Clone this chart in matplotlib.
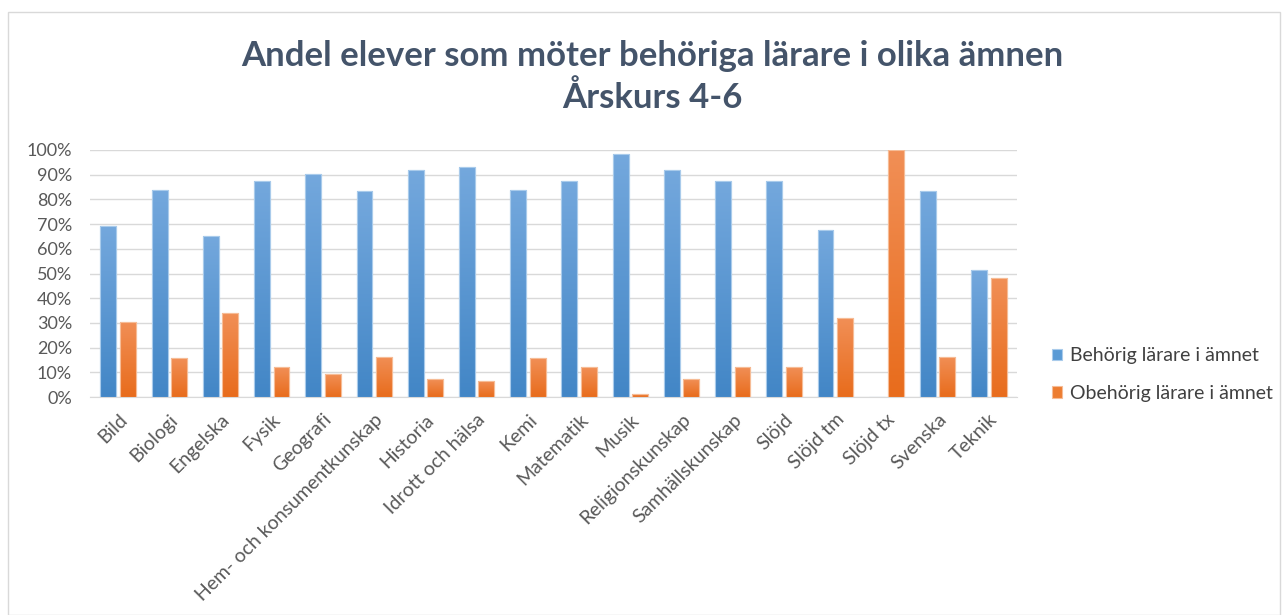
import matplotlib
matplotlib.use("Agg")
import matplotlib.pyplot as plt
from matplotlib.patches import Rectangle
from matplotlib.colors import LinearSegmentedColormap
from matplotlib.ticker import PercentFormatter
import numpy as np

categories = ["Bild", "Biologi", "Engelska", "Fysik", "Geografi",
              "Hem- och konsumentkunskap", "Historia", "Idrott och hälsa",
              "Kemi", "Matematik", "Musik", "Religionskunskap",
              "Samhällskunskap", "Slöjd", "Slöjd tm", "Slöjd tx",
              "Svenska", "Teknik"]
behorig = [69.2, 84.0, 65.0, 87.5, 90.4, 83.2, 91.8, 93.2, 84.0, 87.5,
           98.3, 91.8, 87.5, 87.5, 67.8, 0.0, 83.2, 51.5]
obehorig = [30.4, 15.6, 33.9, 12.0, 9.2, 16.2, 7.2, 6.5, 15.6, 12.0,
            1.4, 7.2, 12.0, 12.0, 31.8, 100.0, 16.2, 48.0]
series_names = ["Behörig lärare i ämnet", "Obehörig lärare i ämnet"]
title_lines = ["Andel elever som möter behöriga lärare i olika ämnen", "Årskurs 4-6"]

plt.rcParams['font.family'] = ['Lato', 'DejaVu Sans']

fig = plt.figure(figsize=(12.82, 6.15), dpi=100)
fig.patch.set_facecolor("white")
fig.add_artist(Rectangle((8/1282, 0.0), 1 - 10/1282, 1 - 12/615,
                         transform=fig.transFigure, fill=False,
                         edgecolor="#D9D9D9", linewidth=1.0))

ax = fig.add_axes([90/1282, 1 - 397/615, (1017 - 90)/1282, (397 - 150)/615])
x = np.arange(len(categories))
w = 0.31
off = 0.19
blue = "#5B9BD5"
orange = "#ED7D31"
cmap_blue = LinearSegmentedColormap.from_list("b", ["#4286C6", "#74A8DD"])
cmap_orange = LinearSegmentedColormap.from_list("o", ["#E86C1C", "#F18F56"])

bars_b = ax.bar(x - off, behorig, width=w, color=blue, edgecolor="#A9CBEB",
                linewidth=0.8, label=series_names[0], zorder=3)
bars_o = ax.bar(x + off, obehorig, width=w, color=orange, edgecolor="#F6BC96",
                linewidth=0.8, label=series_names[1], zorder=3)

grad = np.linspace(0, 1, 256).reshape(-1, 1)
for bars, cmap in [(bars_b, cmap_blue), (bars_o, cmap_orange)]:
    for p in bars:
        h = p.get_height()
        if h <= 0:
            continue
        x0 = p.get_x()
        im = ax.imshow(grad, extent=[x0, x0 + p.get_width(), 0, h], origin="lower",
                       cmap=cmap, aspect="auto", zorder=3.5, interpolation="bilinear")
        im.set_clip_path(p)
        edge = Rectangle((x0, 0), p.get_width(), h, fill=False,
                         edgecolor=p.get_edgecolor(), linewidth=0.8, zorder=3.6)
        ax.add_patch(edge)

ax.set_xlim(-0.55, len(categories) - 0.45)
ax.set_ylim(0, 100)
ax.set_yticks(np.arange(0, 101, 10))
ax.yaxis.set_major_formatter(PercentFormatter(decimals=0))
ax.grid(axis="y", color="#D9D9D9", linewidth=1.0, zorder=0)
for s in ["top", "right", "left"]:
    ax.spines[s].set_visible(False)
ax.spines["bottom"].set_color("#D9D9D9")
ax.spines["bottom"].set_zorder(0.5)
ax.tick_params(axis="y", length=0, labelsize=13, labelcolor="#595959", pad=13)
ax.set_xticks(x)
ax.set_xticklabels(categories, rotation=45, ha="right", rotation_mode="anchor")
ax.tick_params(axis="x", length=0, labelsize=14, labelcolor="#595959", pad=10)

fig.text(652/1282, 1 - 66/615, title_lines[0],
         ha="center", va="baseline", fontsize=25, fontweight="bold", color="#44546A")
fig.text(652/1282, 1 - 108/615, title_lines[1],
         ha="center", va="baseline", fontsize=25, fontweight="bold", color="#44546A")

leg = fig.legend(loc="upper left", bbox_to_anchor=(1034/1282, 1 - 330/615),
                 frameon=False, fontsize=14, handlelength=0.55, handleheight=0.55,
                 handletextpad=0.4, labelspacing=1.05)
for t in leg.get_texts():
    t.set_color("#404040")

fig.savefig("out.png", dpi=100, facecolor="white")
